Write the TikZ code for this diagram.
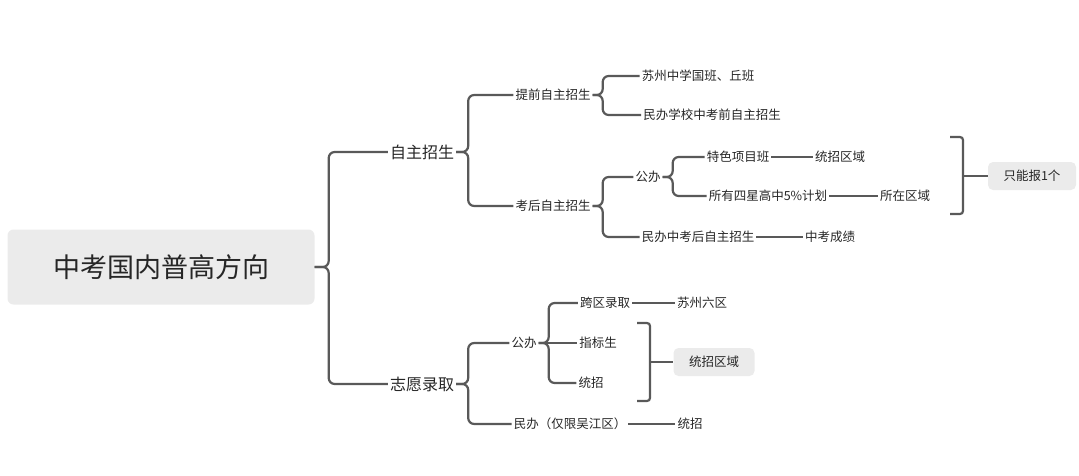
\documentclass[tikz,border=0pt]{standalone}
\usepackage{fontspec}
\setmainfont{Noto Sans CJK SC}
\usetikzlibrary{positioning}
\begin{document}
\begin{tikzpicture}[x=1pt,y=-1pt,
  line/.style={line width=2.2pt,color=black!65,rounded corners=6pt},
  tip/.style={line width=1.2pt,color=black!65},
  lbl/.style={inner sep=2pt,font=\fontsize{12.5}{14}\selectfont,text=black!85},
  mid/.style={inner sep=2pt,font=\fontsize{16}{18}\selectfont,text=black!85},
  box/.style={lbl,fill=black!8,rounded corners=5pt,minimum height=28pt}]
\useasboundingbox (0,0) rectangle (1079,475);

% root
\node[fill=black!8,rounded corners=6pt,minimum width=307pt,minimum height=75pt,
  font=\fontsize{27}{30}\selectfont,text=black!85] (root) at (161,267) {中考国内普高方向};
\node[mid] (zz) at (422,152) {自主招生};
\node[mid] (zy) at (422,384) {志愿录取};
\draw[line] (root.east) -- ++(14,0) |- (zz.west);
\draw[line] (root.east) -- ++(14,0) |- (zy.west);

% 自主招生
\node[lbl] (tq) at (553,95) {提前自主招生};
\node[lbl] (kh) at (553,206) {考后自主招生};
\draw[line] (zz.east) -- ++(12,0) |- (tq.west);
\draw[line] (zz.east) -- ++(12,0) |- (kh.west);

\node[lbl] (sz) at (698,76) {苏州中学国班、丘班};
\node[lbl] (mb) at (712,115) {民办学校中考前自主招生};
\draw[line] (tq.east) -- ++(10,0) |- (sz.west);
\draw[line] (tq.east) -- ++(10,0) |- (mb.west);

\node[lbl] (gb) at (648,177) {公办};
\node[lbl] (mh) at (698,237) {民办中考后自主招生};
\node[lbl] (cj) at (830,237) {中考成绩};
\draw[line] (kh.east) -- ++(10,0) |- (gb.west);
\draw[line] (kh.east) -- ++(10,0) |- (mh.west);
\draw[tip] (mh.east) -- (cj.west);

\node[lbl] (ts) at (738,157) {特色项目班};
\node[lbl] (tz) at (840,157) {统招区域};
\node[lbl] (sy) at (768,196) {所有四星高中5\%计划};
\node[lbl] (sq) at (905,196) {所在区域};
\draw[line] (gb.east) -- ++(10,0) |- (ts.west);
\draw[line] (gb.east) -- ++(10,0) |- (sy.west);
\draw[tip] (ts.east) -- (tz.west);
\draw[tip] (sy.east) -- (sq.west);

\node[box,minimum width=88pt] (zn) at (1032,176) {只能报1个};
\coordinate (b1) at (963,176);
\draw[line,rounded corners=3pt] (950,137) -- (963,137) -- (963,214) -- (950,214);
\draw[tip] (b1) -- (zn.west);

% 志愿录取
\node[lbl] (gb2) at (524,343) {公办};
\node[lbl] (mb2) at (570,424) {民办（仅限吴江区）};
\node[lbl] (tz2) at (690,424) {统招};
\draw[line] (zy.east) -- ++(12,0) |- (gb2.west);
\draw[line] (zy.east) -- ++(12,0) |- (mb2.west);
\draw[tip] (mb2.east) -- (tz2.west);

\node[lbl] (kq) at (605,303) {跨区录取};
\node[lbl] (lq) at (702,303) {苏州六区};
\node[lbl] (zb) at (598,343) {指标生};
\node[lbl] (tz3) at (591,383) {统招};
\draw[line] (gb2.east) -- ++(10,0) |- (kq.west);
\draw[line] (gb2.east) -- ++(10,0) |- (tz3.west);
\draw[line] (gb2.east) -- (zb.west);
\draw[tip] (kq.east) -- (lq.west);

\node[box,minimum width=81pt] (tq2) at (714,362) {统招区域};
\coordinate (b2) at (650,362);
\draw[line,rounded corners=3pt] (637,323) -- (650,323) -- (650,401) -- (637,401);
\draw[tip] (b2) -- (tq2.west);
\end{tikzpicture}
\end{document}
